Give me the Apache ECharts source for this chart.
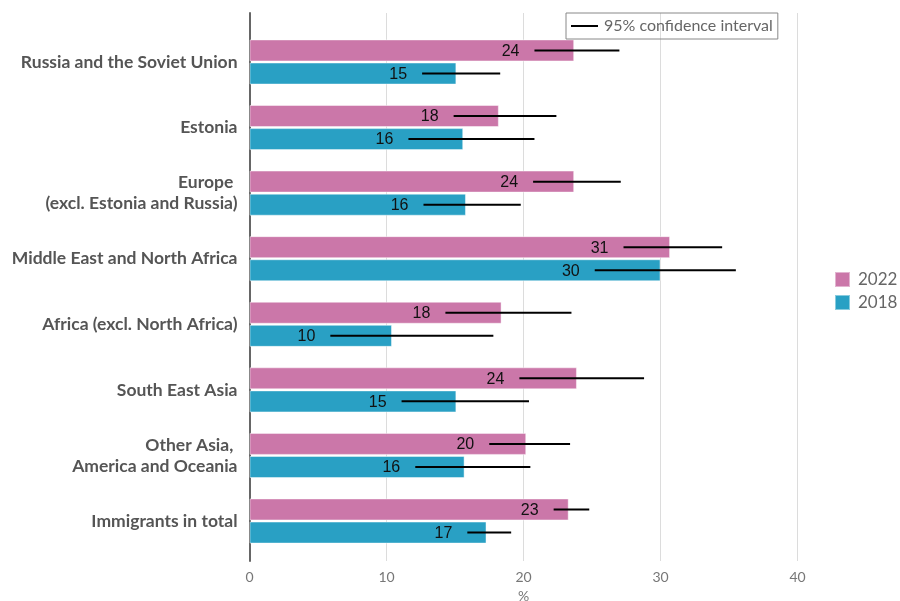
<!DOCTYPE html>
<html>
<head>
<meta charset="utf-8">
<script src="https://cdn.jsdelivr.net/npm/echarts@6/dist/echarts.min.js"></script>
<style>
  html, body { margin: 0; padding: 0; background: #fff; }
  #chart { width: 900px; height: 601px; }
</style>
</head>
<body>
<div id="chart"></div>
<script>
// Share of immigrants (%) by region of origin, 2022 vs 2018, with 95% confidence intervals
const categories = [
  'Russia and the Soviet Union',
  'Estonia',
  'Europe \n(excl. Estonia and Russia)',
  'Middle East and North Africa',
  'Africa (excl. North Africa)',
  'South East Asia',
  'Other Asia, \nAmerica and Oceania',
  'Immigrants in total'
];
const values2022 = [23.7, 18.2, 23.7, 30.7, 18.4, 23.9, 20.2, 23.3];
const values2018 = [15.1, 15.6, 15.8, 30.0, 10.4, 15.1, 15.7, 17.3];
const ciLow2022  = [20.8, 14.9, 20.7, 27.3, 14.3, 19.7, 17.5, 22.2];
const ciHigh2022 = [27.0, 22.4, 27.1, 34.5, 23.5, 28.8, 23.4, 24.8];
const ciLow2018  = [12.6, 11.6, 12.7, 25.2, 5.9, 11.1, 12.1, 15.9];
const ciHigh2018 = [18.3, 20.8, 19.8, 35.5, 17.8, 20.4, 20.5, 19.1];
const xTicks = [0, 10, 20, 30, 40];

const PINK = '#CB77A9';
const BLUE = '#29A0C4';
const TEXT_FONT = 'Lato, "Noto Sans", sans-serif';
const BAR_W = 22;

function ciData(low, high, vals) {
  return categories.map((c, i) => [i, low[i], high[i], vals[i]]);
}

// Error bar with the rounded value written just left of its lower end
function makeCiRenderer(offset) {
  return function (params, api) {
    const cat = api.value(0);
    const p1 = api.coord([api.value(1), cat]);
    const p2 = api.coord([api.value(2), cat]);
    const y = p1[1] + offset;
    return {
      type: 'group',
      children: [
        {
          type: 'line',
          shape: { x1: p1[0], y1: y, x2: p2[0], y2: y },
          style: { stroke: '#000', lineWidth: 2 }
        },
        {
          type: 'text',
          style: {
            text: String(Math.round(api.value(3))),
            x: p1[0] - 15,
            y: y + 1,
            align: 'right',
            verticalAlign: 'middle',
            font: '16px "Liberation Sans", Arial, sans-serif',
            fill: '#111'
          }
        }
      ]
    };
  };
}

const chart = echarts.init(document.getElementById('chart'), null, { renderer: 'canvas' });

chart.setOption({
  animation: false,
  backgroundColor: '#fff',
  grid: [
    { left: 249.5, right: 102.5, top: 13, bottom: 40, containLabel: false, outerBoundsMode: 'none' },
    { left: 249.5, right: 102.5, top: 29.2, bottom: 47.2, containLabel: false, outerBoundsMode: 'none' }
  ],
  legend: [
    {
      data: ['2022', '2018'],
      orient: 'vertical',
      left: 829,
      top: 266,
      itemWidth: 15,
      itemHeight: 15,
      itemGap: 6,
      icon: 'rect',
      textStyle: { fontFamily: TEXT_FONT, fontSize: 17, color: '#666', padding: [0, 0, 0, 3] }
    },
    {
      data: ['95% confidence interval'],
      left: 566,
      top: 13,
      padding: [5, 5, 5, 5],
      borderColor: '#888',
      borderWidth: 1,
      itemWidth: 27,
      itemHeight: 2,
      icon: 'rect',
      itemGap: 0,
      textStyle: { fontFamily: TEXT_FONT, fontSize: 16, color: '#666', padding: [0, 0, 0, 1] }
    }
  ],
  xAxis: [
    {
      type: 'value',
      gridIndex: 0,
      min: 0,
      max: 40,
      interval: 10,
      name: '%',
      nameLocation: 'middle',
      nameGap: 28,
      nameTextStyle: { fontFamily: TEXT_FONT, fontSize: 14, color: '#777', verticalAlign: 'top' },
      axisLine: { show: false },
      axisTick: { show: false },
      axisLabel: {
        fontFamily: TEXT_FONT,
        fontSize: 14,
        color: '#777',
        margin: 9,
        formatter: v => (xTicks.indexOf(v) >= 0 ? String(v) : '')
      },
      splitLine: { show: true, lineStyle: { color: '#dcdcdc', width: 1 } }
    },
    {
      type: 'value',
      gridIndex: 1,
      min: 0,
      max: 40,
      show: false
    }
  ],
  yAxis: [
    {
      type: 'value',
      gridIndex: 0,
      min: 0,
      max: 1,
      axisLine: { show: true, lineStyle: { color: '#666', width: 2 } },
      axisTick: { show: false },
      axisLabel: { show: false },
      splitLine: { show: false }
    },
    {
      type: 'category',
      gridIndex: 1,
      inverse: true,
      data: categories,
      axisLine: { show: false },
      axisTick: { show: false },
      axisLabel: {
        fontFamily: TEXT_FONT,
        fontWeight: 'bold',
        fontSize: 17.5,
        color: '#555',
        margin: 12,
        lineHeight: 21,
        align: 'right'
      },
      splitLine: { show: false }
    }
  ],
  series: [
    {
      name: '2022',
      type: 'bar',
      xAxisIndex: 1,
      yAxisIndex: 1,
      data: values2022,
      barWidth: BAR_W,
      barGap: '5%',
      itemStyle: { color: PINK, borderColor: 'rgba(255,255,255,0.45)', borderWidth: 1 }
    },
    {
      name: '2018',
      type: 'bar',
      xAxisIndex: 1,
      yAxisIndex: 1,
      data: values2018,
      barWidth: BAR_W,
      barGap: '5%',
      itemStyle: { color: BLUE, borderColor: 'rgba(255,255,255,0.45)', borderWidth: 1 }
    },
    {
      name: '95% confidence interval',
      type: 'custom',
      xAxisIndex: 1,
      yAxisIndex: 1,
      renderItem: makeCiRenderer(-11.5),
      encode: { x: [1, 2], y: 0 },
      data: ciData(ciLow2022, ciHigh2022, values2022),
      itemStyle: { color: '#000' },
      z: 5
    },
    {
      name: '95% confidence interval',
      type: 'custom',
      xAxisIndex: 1,
      yAxisIndex: 1,
      renderItem: makeCiRenderer(11.5),
      encode: { x: [1, 2], y: 0 },
      data: ciData(ciLow2018, ciHigh2018, values2018),
      itemStyle: { color: '#000' },
      z: 5
    }
  ]
});
</script>
</body>
</html>
